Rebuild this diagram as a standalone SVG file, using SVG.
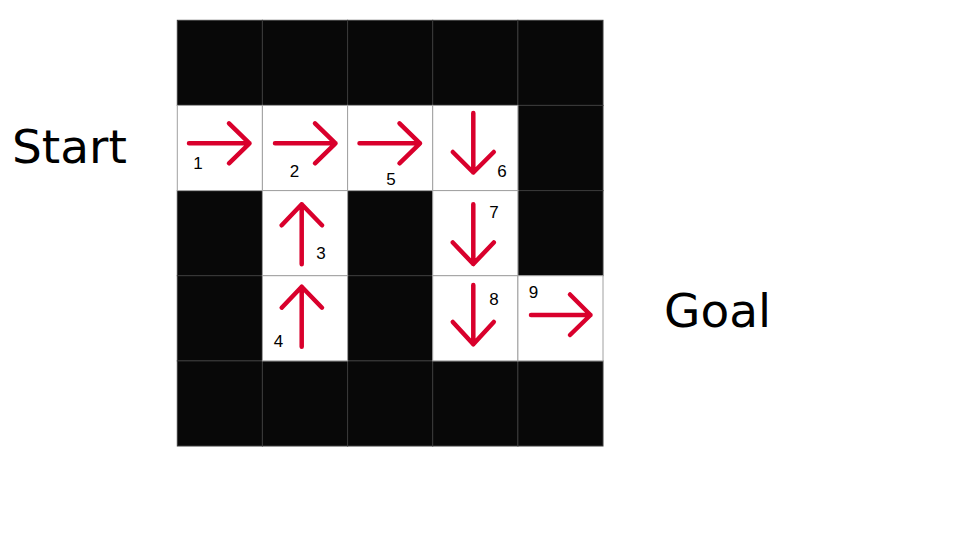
<svg xmlns="http://www.w3.org/2000/svg" width="960" height="540" viewBox="0 0 960 540">
<defs>
<style>
.blk{fill:#080808;stroke:#3a3a3a;stroke-width:1}
.wht{fill:#ffffff;stroke:#a0a0a0;stroke-width:1}
.arr{fill:none;stroke:#d9002c;stroke-width:4.5;stroke-linecap:round;stroke-linejoin:round}
.num{font-family:"Liberation Sans",Arial,sans-serif;font-size:17px;fill:#000;text-anchor:middle}
.big{font-family:"DejaVu Sans",Verdana,sans-serif;font-size:47px;fill:#000}
</style>
</defs>
<rect width="960" height="540" fill="#fff"/>
<g id="grid">
<rect class="blk" x="177.3" y="20.3" width="85.1" height="85.1"/>
<rect class="blk" x="262.4" y="20.3" width="85.2" height="85.1"/>
<rect class="blk" x="347.6" y="20.3" width="85.1" height="85.1"/>
<rect class="blk" x="432.7" y="20.3" width="85.2" height="85.1"/>
<rect class="blk" x="517.9" y="20.3" width="85.1" height="85.1"/>
<rect class="blk" x="517.9" y="105.4" width="85.1" height="85.2"/>
<rect class="blk" x="177.3" y="190.6" width="85.1" height="85.1"/>
<rect class="blk" x="347.6" y="190.6" width="85.1" height="85.1"/>
<rect class="blk" x="517.9" y="190.6" width="85.1" height="85.1"/>
<rect class="blk" x="177.3" y="275.7" width="85.1" height="85.2"/>
<rect class="blk" x="347.6" y="275.7" width="85.1" height="85.2"/>
<rect class="blk" x="177.3" y="360.9" width="85.1" height="85.1"/>
<rect class="blk" x="262.4" y="360.9" width="85.2" height="85.1"/>
<rect class="blk" x="347.6" y="360.9" width="85.1" height="85.1"/>
<rect class="blk" x="432.7" y="360.9" width="85.2" height="85.1"/>
<rect class="blk" x="517.9" y="360.9" width="85.1" height="85.1"/>
</g>
<g id="cell1">
<rect class="wht" x="177.3" y="105.4" width="85.1" height="85.2"/>
<path class="arr" d="M189 143.3H249.5M229 123.3L249.5 143.3L229 163.3"/>
<text class="num" x="198" y="168.5">1</text>
</g>
<g id="cell2">
<rect class="wht" x="262.4" y="105.4" width="85.2" height="85.2"/>
<path class="arr" d="M275 143.3H335.5M315 123.3L335.5 143.3L315 163.3"/>
<text class="num" x="294.5" y="176.5">2</text>
</g>
<g id="cell5">
<rect class="wht" x="347.6" y="105.4" width="85.1" height="85.2"/>
<path class="arr" d="M359.5 143.3H420M399.5 123.3L420 143.3L399.5 163.3"/>
<text class="num" x="391" y="184.5">5</text>
</g>
<g id="cell6">
<rect class="wht" x="432.7" y="105.4" width="85.2" height="85.2"/>
<path class="arr" d="M473.3 113V172.5M452.8 152L473.3 172.5L493.8 152"/>
<text class="num" x="502" y="176.5">6</text>
</g>
<g id="cell3">
<rect class="wht" x="262.4" y="190.6" width="85.2" height="85.1"/>
<path class="arr" d="M301.7 264.3V204.3M281.7 225.3L301.7 204.3L322 225.3"/>
<text class="num" x="321" y="259">3</text>
</g>
<g id="cell7">
<rect class="wht" x="432.7" y="190.6" width="85.2" height="85.1"/>
<path class="arr" d="M473.3 204.3V264M452.8 242.5L473.3 264L493.8 242.5"/>
<text class="num" x="494" y="217.5">7</text>
</g>
<g id="cell4">
<rect class="wht" x="262.4" y="275.7" width="85.2" height="85.2"/>
<path class="arr" d="M301.7 346.7V286.7M281.7 307.7L301.7 286.7L322 307.7"/>
<text class="num" x="278.5" y="347">4</text>
</g>
<g id="cell8">
<rect class="wht" x="432.7" y="275.7" width="85.2" height="85.2"/>
<path class="arr" d="M473.3 285V344.3M452.8 322L473.3 344.3L493.8 322"/>
<text class="num" x="494" y="304.5">8</text>
</g>
<g id="cell9">
<rect class="wht" x="517.9" y="275.7" width="85.1" height="85.2"/>
<path class="arr" d="M531 315H590.5M570 294.5L590.5 315L570 335"/>
<text class="num" x="533.5" y="297.5">9</text>
</g>
<g id="labels">
<text class="big" x="12" y="163">Start</text>
<text class="big" x="664" y="327">Goal</text>
</g>
</svg>
